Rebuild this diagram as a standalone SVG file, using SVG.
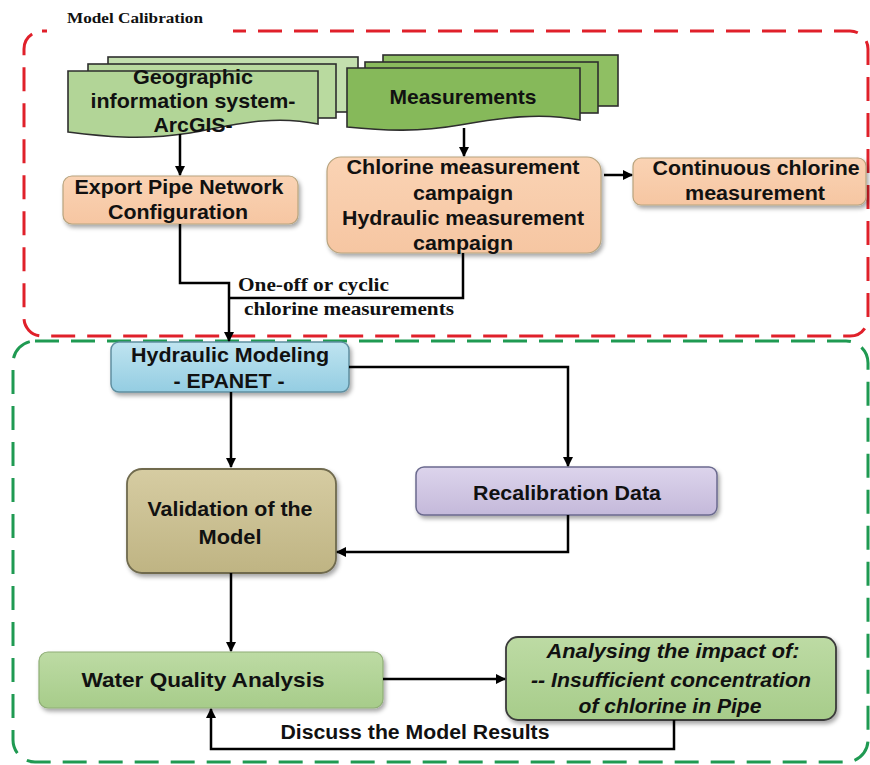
<svg xmlns="http://www.w3.org/2000/svg" width="870" height="765" viewBox="0 0 870 765">
<defs>
<style>
.t{font-family:"Liberation Sans",Arial,sans-serif;font-weight:bold;fill:#111;text-anchor:middle}
.s{font-family:"Liberation Serif","Times New Roman",serif;font-weight:bold;fill:#111}
.c{fill:none;stroke:#000;stroke-width:2.5}
.doc{stroke:#2e2e2e;stroke-width:1.6}
</style>
<marker id="ah" viewBox="0 0 10 10" refX="9" refY="5" markerWidth="4" markerHeight="4" orient="auto-start-reverse" markerUnits="strokeWidth">
<path d="M0,0 L10,5 L0,10 Z" fill="#000"/>
</marker>
<filter id="sh" x="-10%" y="-10%" width="125%" height="135%">
<feDropShadow dx="2" dy="3" stdDeviation="2" flood-color="#000" flood-opacity="0.35"/>
</filter>
<linearGradient id="gPeach" x1="0" y1="0" x2="0" y2="1"><stop offset="0" stop-color="#fad3b4"/><stop offset="1" stop-color="#f6c6a2"/></linearGradient>
<linearGradient id="gBlue" x1="0" y1="0" x2="0" y2="1"><stop offset="0" stop-color="#bfe4f0"/><stop offset="1" stop-color="#94cde2"/></linearGradient>
<linearGradient id="gKhaki" x1="0" y1="0" x2="0" y2="1"><stop offset="0" stop-color="#d6cca2"/><stop offset="1" stop-color="#bfb483"/></linearGradient>
<linearGradient id="gLav" x1="0" y1="0" x2="0" y2="1"><stop offset="0" stop-color="#dcd4ec"/><stop offset="1" stop-color="#c4b9da"/></linearGradient>
<linearGradient id="gGreen" x1="0" y1="0" x2="0" y2="1"><stop offset="0" stop-color="#bddba4"/><stop offset="1" stop-color="#a7cc8a"/></linearGradient>
</defs>
<rect width="870" height="765" fill="#fff"/>

<g id="frame-calibration">
<rect x="24" y="31" width="844" height="305" rx="18" fill="none" stroke="#e0202a" stroke-width="3" stroke-dasharray="24 12"/>
<rect x="47" y="24" width="186" height="14" fill="#fff"/>
<text class="s" x="67" y="23" font-size="15" textLength="136" lengthAdjust="spacingAndGlyphs">Model Calibration</text>
</g>
<g id="frame-modeling">
<rect x="13" y="341" width="855" height="421" rx="22" fill="none" stroke="#1f9a52" stroke-width="3" stroke-dasharray="24 12"/>
</g>

<g id="gis">
<rect class="doc" x="108" y="57" width="250" height="55" fill="#c3dfae"/>
<rect class="doc" x="88" y="64" width="248" height="54" fill="#b9da9f"/>
<path class="doc" d="M68,71 H318 V124 C270,114 230,126 190,133 C140,141 100,136 68,132 Z" fill="#b2d597"/>
<text class="t" x="193" y="84" font-size="21" textLength="120" lengthAdjust="spacingAndGlyphs">Geographic</text>
<text class="t" x="193" y="108" font-size="21" textLength="205" lengthAdjust="spacingAndGlyphs">information system-</text>
<text class="t" x="193" y="132" font-size="21" textLength="79" lengthAdjust="spacingAndGlyphs">ArcGIS-</text>
</g>

<g id="measurements">
<rect class="doc" x="383" y="55" width="235" height="51" fill="#8fbf63"/>
<rect class="doc" x="365" y="62" width="233" height="51" fill="#8abb5d"/>
<path class="doc" d="M347,68 H580 V120 C540,112 500,118 460,125 C420,132 385,131 347,127 Z" fill="#86b95a"/>
<text class="t" x="463" y="104" font-size="21" textLength="147" lengthAdjust="spacingAndGlyphs">Measurements</text>
</g>

<g id="export">
<rect x="63" y="176" width="235" height="48" rx="9" fill="url(#gPeach)" stroke="#b8a47e" stroke-width="1.2" filter="url(#sh)"/>
<text class="t" x="179" y="194" font-size="20" textLength="209" lengthAdjust="spacingAndGlyphs">Export Pipe Network</text>
<text class="t" x="178" y="219" font-size="20" textLength="140" lengthAdjust="spacingAndGlyphs">Configuration</text>
</g>

<g id="chlorine">
<rect x="327" y="157" width="274" height="96" rx="14" fill="url(#gPeach)" stroke="#b8a47e" stroke-width="1.2" filter="url(#sh)"/>
<text class="t" x="463" y="174" font-size="20" textLength="233" lengthAdjust="spacingAndGlyphs">Chlorine measurement</text>
<text class="t" x="463" y="200" font-size="20" textLength="100" lengthAdjust="spacingAndGlyphs">campaign</text>
<text class="t" x="463" y="225" font-size="20" textLength="242" lengthAdjust="spacingAndGlyphs">Hydraulic measurement</text>
<text class="t" x="463" y="250" font-size="20" textLength="100" lengthAdjust="spacingAndGlyphs">campaign</text>
</g>

<g id="continuous">
<rect x="633" y="158" width="233" height="47" rx="8" fill="url(#gPeach)" stroke="#b8a47e" stroke-width="1.2" filter="url(#sh)"/>
<text class="t" x="756" y="175" font-size="20" textLength="207" lengthAdjust="spacingAndGlyphs">Continuous chlorine</text>
<text class="t" x="755" y="200" font-size="20" textLength="140" lengthAdjust="spacingAndGlyphs">measurement</text>
</g>

<g id="hydraulic">
<rect x="111" y="342" width="238" height="50" rx="8" fill="url(#gBlue)" stroke="#5f8fa0" stroke-width="1.5" filter="url(#sh)"/>
<text class="t" x="230" y="362" font-size="20" textLength="198" lengthAdjust="spacingAndGlyphs">Hydraulic Modeling</text>
<text class="t" x="229" y="388" font-size="20" textLength="111" lengthAdjust="spacingAndGlyphs">- EPANET -</text>
</g>

<g id="validation">
<rect x="127" y="469" width="209" height="104" rx="15" fill="url(#gKhaki)" stroke="#6f6a4e" stroke-width="1.8" filter="url(#sh)"/>
<text class="t" x="230" y="516" font-size="21" textLength="165" lengthAdjust="spacingAndGlyphs">Validation of the</text>
<text class="t" x="230" y="544" font-size="21" textLength="63" lengthAdjust="spacingAndGlyphs">Model</text>
</g>

<g id="recalibration">
<rect x="416" y="467" width="301" height="48" rx="8" fill="url(#gLav)" stroke="#6b6a8e" stroke-width="1.5" filter="url(#sh)"/>
<text class="t" x="567" y="500" font-size="20" textLength="188" lengthAdjust="spacingAndGlyphs">Recalibration Data</text>
</g>

<g id="water-quality">
<rect x="39" y="652" width="344" height="56" rx="9" fill="url(#gGreen)" stroke="#8fae76" stroke-width="1.2" filter="url(#sh)"/>
<text class="t" x="203" y="687" font-size="21" textLength="243" lengthAdjust="spacingAndGlyphs">Water Quality Analysis</text>
</g>

<g id="analysing">
<rect x="506" y="637" width="330" height="83" rx="12" fill="url(#gGreen)" stroke="#3a3a3a" stroke-width="1.8" filter="url(#sh)"/>
<text class="t" x="673" y="658" font-size="20" font-style="italic" textLength="253" lengthAdjust="spacingAndGlyphs">Analysing the impact of:</text>
<text class="t" x="671" y="687" font-size="20" font-style="italic" textLength="280" lengthAdjust="spacingAndGlyphs">-- Insufficient concentration</text>
<text class="t" x="670" y="713" font-size="20" font-style="italic" textLength="183" lengthAdjust="spacingAndGlyphs">of chlorine in Pipe</text>
</g>

<g id="connectors">
<path class="c" d="M180,134 V175" marker-end="url(#ah)"/>
<path class="c" d="M464,128 V156" marker-end="url(#ah)"/>
<path class="c" d="M604,175 H632" stroke-width="3" marker-end="url(#ah)"/>
<path class="c" d="M180,224 V283 H229 V341" marker-end="url(#ah)"/>
<path class="c" d="M463,253 V298 H229"/>
<path class="c" d="M349,367 H568 V466" marker-end="url(#ah)"/>
<path class="c" d="M231,392 V467" marker-end="url(#ah)"/>
<path class="c" d="M568,515 V552 H337" marker-end="url(#ah)"/>
<path class="c" d="M231,573 V651" marker-end="url(#ah)"/>
<path class="c" d="M383,679 H505" stroke-width="3.5" marker-end="url(#ah)"/>
<path class="c" d="M674,720 V749 H211 V709" marker-end="url(#ah)"/>
<text class="s" x="238" y="291" font-size="19" textLength="151" lengthAdjust="spacingAndGlyphs">One-off or cyclic</text>
<text class="s" x="244" y="315" font-size="19" textLength="210" lengthAdjust="spacingAndGlyphs">chlorine measurements</text>
<text class="t" x="415" y="739" font-size="20" textLength="269" lengthAdjust="spacingAndGlyphs">Discuss the Model Results</text>
</g>
</svg>
